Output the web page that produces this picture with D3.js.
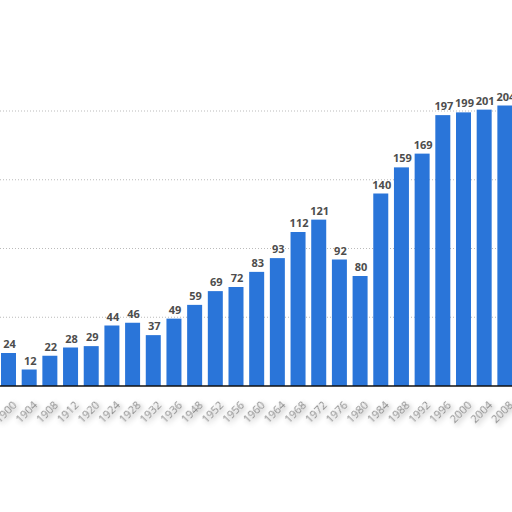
<!DOCTYPE html>
<html>
<head>
<meta charset="utf-8">
<script src="https://cdn.jsdelivr.net/npm/d3@7"></script>
<style>
  body { margin: 0; background: #fff; }
  svg { display: block; }
</style>
</head>
<body>
<div id="chart"></div>
<script>
const years = ["1900", "1904", "1908", "1912", "1920", "1924", "1928", "1932", "1936", "1948",
  "1952", "1956", "1960", "1964", "1968", "1972", "1976", "1980", "1984", "1988",
  "1992", "1996", "2000", "2004", "2008"];
const nations = [24, 12, 22, 28, 29, 44, 46, 37, 49, 59,
  69, 72, 83, 93, 112, 121, 92, 80, 140, 159,
  169, 197, 199, 201, 204];
const gridTicks = [50, 100, 150, 200];

const width = 512, height = 512;

const svg = d3.select("#chart").append("svg")
  .attr("width", width)
  .attr("height", height);

const defs = svg.append("defs");
defs.append("filter").attr("id", "shadow")
  .attr("x", "-50%").attr("y", "-50%").attr("width", "200%").attr("height", "200%")
  .append("feDropShadow")
  .attr("dx", 0).attr("dy", 3).attr("stdDeviation", 2.5)
  .attr("flood-color", "#000").attr("flood-opacity", 0.4);

const x = d3.scaleBand()
  .domain(years)
  .range([-1.84, 515.2])
  .paddingInner(0.275)
  .paddingOuter(0.1375);

const y = d3.scaleLinear()
  .domain([0, 200])
  .range([386, 111]);

// dotted gridlines
svg.append("g")
  .selectAll("line")
  .data(gridTicks)
  .join("line")
  .attr("x1", 0).attr("x2", width)
  .attr("y1", d => y(d)).attr("y2", d => y(d))
  .attr("stroke", "#bbb")
  .attr("stroke-width", 1)
  .attr("stroke-dasharray", "1,2");

// bars
svg.append("g")
  .attr("fill", "#2a75d9")
  .selectAll("rect")
  .data(nations)
  .join("rect")
  .attr("x", (d, i) => x(years[i]))
  .attr("y", d => y(d))
  .attr("width", x.bandwidth())
  .attr("height", d => y(0) - y(d));

// value labels
svg.append("g")
  .attr("font-family", "'Open Sans', sans-serif")
  .attr("font-size", 11)
  .attr("font-weight", "bold")
  .attr("fill", "#4d4d4d")
  .attr("text-anchor", "middle")
  .selectAll("text")
  .data(nations)
  .join("text")
  .attr("x", (d, i) => x(years[i]) + x.bandwidth() / 2 + 1)
  .attr("y", d => y(d) - 5)
  .text(d => d);

// x axis
const xAxis = svg.append("g")
  .attr("transform", `translate(0,${y(0)})`)
  .call(d3.axisBottom(x).tickSize(0).tickSizeOuter(0));

xAxis.select(".domain")
  .attr("d", `M0,0H${width}`)
  .attr("stroke", "#111")
  .attr("stroke-width", 1.5);

xAxis.selectAll("text")
  .attr("font-family", "'Open Sans', sans-serif")
  .attr("font-size", 11)
  .attr("fill", "#8a8a8a")
  .attr("filter", "url(#shadow)")
  .attr("text-anchor", "end")
  .attr("dy", "0.35em")
  .attr("transform", "translate(4,15) rotate(-45)");
</script>
</body>
</html>
